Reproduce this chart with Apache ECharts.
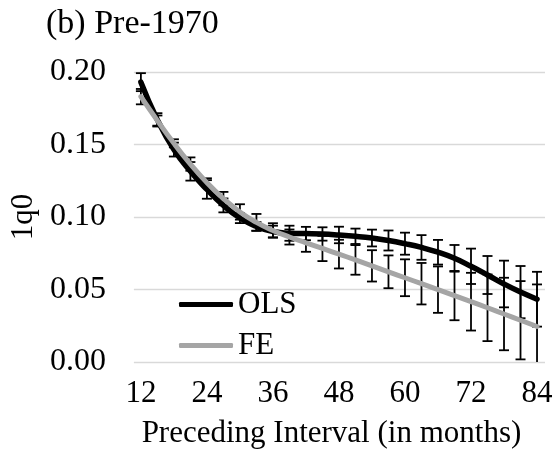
<!DOCTYPE html>
<html>
<head>
<meta charset="utf-8">
<script src="https://cdn.jsdelivr.net/npm/echarts@6/dist/echarts.min.js"></script>
<style>
  html, body { margin: 0; padding: 0; background: #fff; }
  #chart { width: 556px; height: 465px; }
</style>
</head>
<body>
<div id="chart"></div>
<script>
// Preceding interval (months) at which each estimate is reported
const months = [12, 15, 18, 21, 24, 27, 30, 33, 36, 39, 42, 45, 48, 51, 54, 57, 60, 63, 66, 69, 72, 75, 78, 81, 84];

// OLS estimates of 1q0 and half-width of their confidence intervals
const olsValues = [0.193, 0.167, 0.1465, 0.1315, 0.119, 0.108, 0.0993, 0.0935, 0.090, 0.0888, 0.0886, 0.0883, 0.0876, 0.0867, 0.0855, 0.0838, 0.0816, 0.0790, 0.0757, 0.0715, 0.0660, 0.0600, 0.0538, 0.0482, 0.0433];
const olsHalf = [0.0062, 0.0046, 0.0048, 0.0064, 0.0064, 0.0048, 0.0035, 0.003, 0.004, 0.0052, 0.0046, 0.0046, 0.0057, 0.0053, 0.0058, 0.0069, 0.0076, 0.0085, 0.0085, 0.0092, 0.0122, 0.0131, 0.0161, 0.018, 0.0189];

// Fixed-effects estimates and their confidence half-widths
const feValues = [0.183, 0.1665, 0.1508, 0.1365, 0.1237, 0.1127, 0.1035, 0.0963, 0.0907, 0.0862, 0.0822, 0.0783, 0.0744, 0.0704, 0.0663, 0.0622, 0.0581, 0.0540, 0.0499, 0.0458, 0.0416, 0.0374, 0.0331, 0.0288, 0.0245];
const feHalf = [0.0053, 0.0035, 0.0028, 0.0046, 0.003, 0.0046, 0.0053, 0.0058, 0.005, 0.0052, 0.0062, 0.0087, 0.0099, 0.0102, 0.0108, 0.0113, 0.0127, 0.0143, 0.016, 0.017, 0.0199, 0.023, 0.025, 0.027, 0.029];

// Axis tick labels
const xTicks = [12, 24, 36, 48, 60, 72, 84];
const yTicks = [0, 0.05, 0.10, 0.15, 0.20];

const FONT = '"Liberation Serif", "Times New Roman", serif';

const pairs = (vals) => months.map((m, i) => [m, vals[i]]);
const bars = (vals, half) => months.map((m, i) => [m, vals[i] - half[i], vals[i] + half[i]]);

// Vertical error bar with caps; clipped at the bottom of the value axis
function renderErrorBar(params, api) {
  const x = api.value(0);
  const lo = api.value(1);
  const hi = api.value(2);
  const top = api.coord([x, hi]);
  const bot = api.coord([x, Math.max(lo, 0)]);
  const capHalf = 5;
  const style = { stroke: '#000', lineWidth: 1.8 };
  const children = [
    { type: 'line', shape: { x1: top[0], y1: top[1], x2: bot[0], y2: bot[1] }, style },
    { type: 'line', shape: { x1: top[0] - capHalf, y1: top[1], x2: top[0] + capHalf, y2: top[1] }, style }
  ];
  if (lo >= 0) {
    children.push({ type: 'line', shape: { x1: bot[0] - capHalf, y1: bot[1], x2: bot[0] + capHalf, y2: bot[1] }, style });
  }
  return { type: 'group', children };
}

const chart = echarts.init(document.getElementById('chart'), null, { renderer: 'canvas' });

chart.setOption({
  animation: false,
  backgroundColor: '#fff',
  title: {
    text: '(b) Pre-1970',
    left: 46,
    top: 7,
    padding: 0,
    textStyle: { fontFamily: FONT, fontSize: 34, fontWeight: 'normal', color: '#000' }
  },
  legend: {
    data: ['OLS', 'FE'],
    orient: 'vertical',
    left: 179,
    top: 289,
    padding: 0,
    itemWidth: 54,
    itemHeight: 5,
    itemGap: 10,
    icon: 'roundRect',
    textStyle: { fontFamily: FONT, fontSize: 31, color: '#000' }
  },
  grid: { left: 133, right: 11, top: 72, bottom: 103 },
  xAxis: {
    type: 'value',
    min: 10.73,
    max: 85.45,
    name: 'Preceding Interval (in months)',
    nameLocation: 'middle',
    nameGap: 56,
    nameTextStyle: { fontFamily: FONT, fontSize: 31, color: '#000', padding: [0, 16, 0, 0] },
    axisLine: { show: false },
    axisTick: { show: false },
    splitLine: { show: false },
    axisLabel: {
      customValues: xTicks,
      margin: 16,
      fontFamily: FONT,
      fontSize: 31,
      color: '#000'
    }
  },
  yAxis: {
    type: 'value',
    min: 0,
    max: 0.2,
    interval: 0.05,
    name: '1q0',
    nameLocation: 'middle',
    nameRotate: 90,
    nameGap: 94,
    nameTextStyle: { fontFamily: FONT, fontSize: 31, color: '#000' },
    axisLine: { show: false },
    axisTick: { show: false },
    splitLine: { show: true, lineStyle: { color: '#d9d9d9', width: 1.3 } },
    axisLabel: {
      customValues: yTicks,
      margin: 28,
      fontFamily: FONT,
      fontSize: 32,
      color: '#000',
      formatter: (v) => v.toFixed(2)
    }
  },
  series: [
    {
      name: 'OLS bounds',
      type: 'custom',
      renderItem: renderErrorBar,
      data: bars(olsValues, olsHalf),
      encode: { x: 0, y: [1, 2] },
      z: 1,
      silent: true
    },
    {
      name: 'FE bounds',
      type: 'custom',
      renderItem: renderErrorBar,
      data: bars(feValues, feHalf),
      encode: { x: 0, y: [1, 2] },
      z: 1,
      silent: true
    },
    {
      name: 'OLS',
      type: 'line',
      data: pairs(olsValues),
      smooth: 0.5,
      showSymbol: false,
      symbol: 'none',
      color: '#000',
      lineStyle: { color: '#000', width: 5.5, cap: 'round' },
      z: 2
    },
    {
      name: 'FE',
      type: 'line',
      data: pairs(feValues),
      smooth: 0.5,
      showSymbol: false,
      symbol: 'none',
      color: '#a5a5a5',
      lineStyle: { color: '#a5a5a5', width: 5, cap: 'round' },
      z: 3
    }
  ]
});
</script>
</body>
</html>
